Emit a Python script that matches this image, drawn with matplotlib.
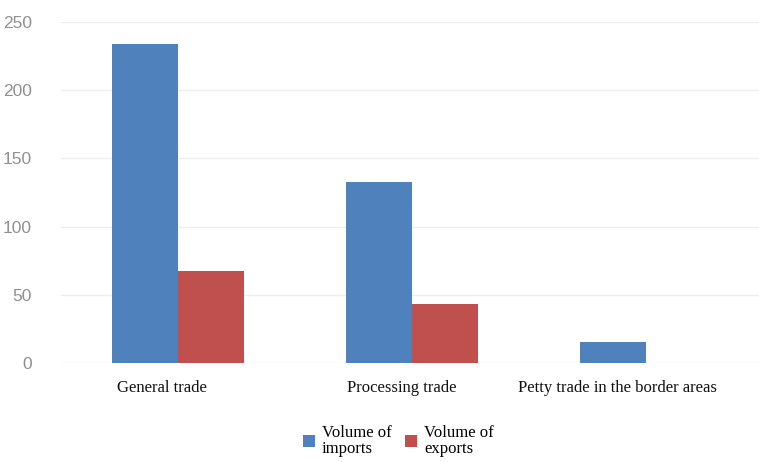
import matplotlib
matplotlib.use("Agg")
import matplotlib.pyplot as plt
import numpy as np

categories = ["General trade", "Processing trade", "Petty trade in the border areas"]
imports = [234, 133, 15.5]
exports = [67.5, 43.5, 0]
series_labels = ["Volume of\nimports", "Volume of\nexports"]
yticks = [0, 50, 100, 150, 200, 250]

blue = "#4F81BD"
red = "#C0504D"

fig = plt.figure(figsize=(7.59, 4.62), dpi=100)
ax = fig.add_axes([61 / 759, 99 / 462, 702 / 759, 341 / 462])

x = np.arange(len(categories))
w = 0.282
b1 = ax.bar(x - w / 2, imports, width=w, color=blue, label=series_labels[0])
b2 = ax.bar(x + w / 2, exports, width=w, color=red, label=series_labels[1])

ax.set_xlim(-0.5, len(categories) - 0.5)
ax.set_ylim(0, 250)
ax.set_yticks(yticks)
ax.set_yticklabels([str(v) for v in yticks], family="Liberation Sans",
                   fontsize=12.5, color="#909090")
ax.tick_params(axis="y", length=0, pad=21)
ax.grid(axis="y", color="#eeeeee", linewidth=1)
ax.set_axisbelow(True)
for s in ax.spines.values():
    s.set_visible(False)

# category labels sit slightly left of their groups
label_shift = np.array([-0.068, -0.045, -0.124])
ax.set_xticks(x + label_shift)
ax.set_xticklabels(categories, family="Liberation Serif", fontsize=12, color="#111111")
ax.tick_params(axis="x", length=0, pad=12)

leg = ax.legend(handles=[b1, b2], loc="center", bbox_to_anchor=(0.525, 0.046),
                bbox_transform=fig.transFigure, ncol=2, frameon=False,
                prop={"family": "Liberation Serif", "size": 12},
                handlelength=0.7, handleheight=0.7, handletextpad=0.45,
                columnspacing=0.8, labelspacing=0.1)
for t in leg.get_texts():
    t.set_linespacing(1.0)

fig.savefig("out.png", dpi=100)
